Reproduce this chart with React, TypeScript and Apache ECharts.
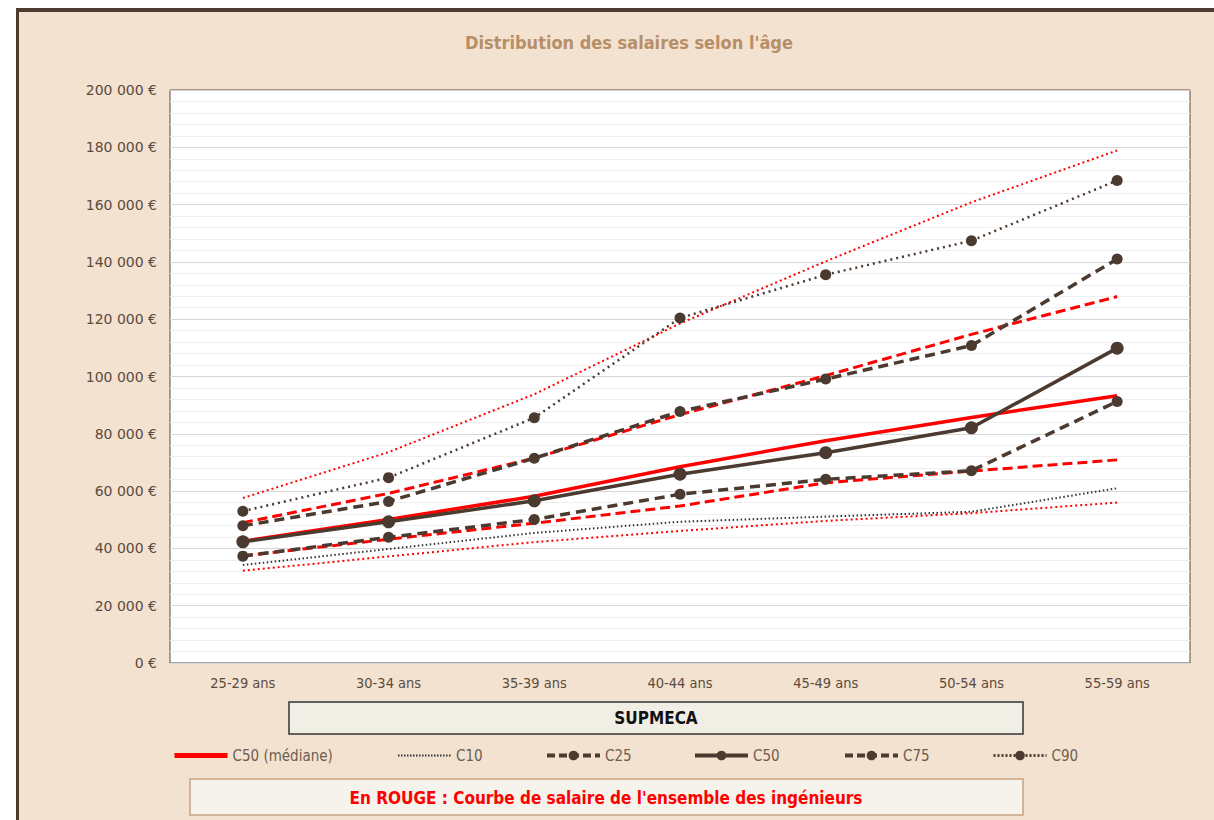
import React, { useEffect, useRef } from 'react';
import * as echarts from 'echarts';

const categories = ['25-29 ans', '30-34 ans', '35-39 ans', '40-44 ans', '45-49 ans', '50-54 ans', '55-59 ans'];

// SUPMECA percentiles
const supC10 = [34200, 39800, 45400, 49300, 51100, 52800, 61000];
const supC25 = [37300, 43900, 50100, 58900, 64100, 67100, 91300];
const supC50 = [42300, 49300, 56600, 65900, 73400, 82100, 109900];
const supC75 = [47900, 56400, 71500, 87800, 99100, 110800, 141000];
const supC90 = [53000, 64700, 85600, 120400, 135500, 147400, 168400];

// Ensemble des ingénieurs (en rouge)
const allC10 = [32200, 37200, 42200, 46100, 49600, 52300, 56000];
const allC25 = [37400, 43200, 48800, 54800, 62900, 67000, 70900];
const allC50 = [42500, 50100, 58200, 68500, 77600, 85700, 93300];
const allC75 = [49000, 59200, 71500, 86700, 100300, 114700, 127900];
const allC90 = [57600, 73600, 93800, 118500, 140200, 160800, 178900];

const yMin = 0;
const yMax = 200000;
const yInterval = 20000;

const titleText = "Distribution des salaires selon l'âge";
const boxLabel = 'SUPMECA';
const noteText = "En ROUGE : Courbe de salaire de l'ensemble des ingénieurs";

const legendNames = ['C50 (médiane)', 'C10', 'C25', 'C50', 'C75', 'C90'];
const legendLefts = [172, 397, 545, 693, 843, 992];

const RED = '#FF0000';
const BROWN = '#4B3A2F';
const COND = '"Liberation Sans Narrow", "DejaVu Sans Condensed", "Roboto Condensed", "DejaVu Sans", sans-serif';
const WIDE = '"DejaVu Sans", Verdana, sans-serif';

const fmt = (v: number) => String(v).replace(/\B(?=(\d{3})+(?!\d))/g, ' ') + ' €';

export default function App() {
  const ref = useRef<HTMLDivElement>(null);
  useEffect(() => {
    document.body.style.margin = '0';
    const chart = echarts.init(ref.current!, null, { renderer: 'svg' });

    const redLine = (name: string, data: number[], width: number, type: any) => ({
      name,
      type: 'line',
      data,
      symbol: 'none',
      showSymbol: false,
      z: 2,
      lineStyle: { color: RED, width, type, cap: 'butt' },
      itemStyle: { color: RED },
    });
    const brownLine = (name: string, data: number[], width: number, type: any, symbolSize: number, color = BROWN) => ({
      name,
      type: 'line',
      data,
      symbol: symbolSize > 0 ? 'circle' : 'none',
      showSymbol: symbolSize > 0,
      symbolSize,
      z: 3,
      lineStyle: { color, width, type, cap: 'butt' },
      itemStyle: { color },
    });

    const legendLine: any[] = [
      { color: RED, width: 5, type: 'solid' },
      { color: '#333333', width: 2, type: [1.5, 1.5] },
      { color: BROWN, width: 4, type: [8, 4] },
      { color: BROWN, width: 4, type: 'solid' },
      { color: BROWN, width: 4, type: [8, 4] },
      { color: BROWN, width: 3, type: [2, 2] },
    ];
    const legendSymbolHidden = [true, true, false, false, false, false];

    const option: any = {
      animation: false,
      backgroundColor: '#F3E2D0',
      title: {
        text: titleText,
        left: 624,
        textAlign: 'center',
        top: 28,
        textStyle: { color: '#B68F69', fontSize: 18, fontWeight: 'bold', fontFamily: COND },
      },
      grid: {
        left: 170,
        right: 24,
        top: 90,
        bottom: 157,
        show: true,
        backgroundColor: '#FFFFFF',
        borderColor: '#5A4A3E',
        borderWidth: 1,
        containLabel: false,
      },
      xAxis: {
        type: 'category',
        data: categories,
        boundaryGap: true,
        axisLine: { show: false },
        axisTick: { show: false },
        axisLabel: { color: '#5B4B3E', fontSize: 14.5, fontFamily: COND, margin: 12 },
        splitLine: { show: false },
      },
      yAxis: {
        type: 'value',
        min: yMin,
        max: yMax,
        interval: yInterval,
        axisLine: { show: false },
        axisTick: { show: false },
        axisLabel: { color: '#5B4B3E', fontSize: 14, fontFamily: WIDE, margin: 13, formatter: fmt },
        splitLine: { show: true, lineStyle: { color: '#D6D6D6', width: 1 } },
        minorTick: { show: false, splitNumber: 5 },
        minorSplitLine: { show: true, lineStyle: { color: '#EFEFEF', width: 1 } },
      },
      legend: legendNames.map((n, i) => ({
        data: [n],
        left: legendLefts[i],
        top: 748,
        padding: 0,
        itemWidth: 53,
        itemHeight: 12,
        itemGap: 4,
        lineStyle: legendLine[i],
        itemStyle: legendSymbolHidden[i] ? { opacity: 0 } : { color: BROWN },
        textStyle: { color: '#6E5E50', fontSize: 15, fontFamily: COND },
        selectedMode: false,
      })),
      graphic: [
        { type: 'rect', silent: true, z: 100, shape: { x: 0, y: 0, width: 1214, height: 8 }, style: { fill: '#FFFFFF' } },
        { type: 'rect', silent: true, z: 100, shape: { x: 0, y: 0, width: 16, height: 820 }, style: { fill: '#FFFFFF' } },
        { type: 'rect', silent: true, z: 101, shape: { x: 16, y: 8, width: 1198, height: 4 }, style: { fill: '#4E3B30' } },
        { type: 'rect', silent: true, z: 101, shape: { x: 16, y: 8, width: 3, height: 812 }, style: { fill: '#4E3B30' } },
        { type: 'rect', z: 50, shape: { x: 289, y: 702, width: 734, height: 32 }, style: { fill: '#F1EEE6', stroke: '#333333', lineWidth: 1.5 } },
        {
          type: 'text', z: 51, x: 656, y: 718,
          style: { text: boxLabel, align: 'center', verticalAlign: 'middle', fill: '#111111', font: `bold 17px ${COND}` },
        },
        { type: 'rect', z: 50, shape: { x: 190, y: 779, width: 833, height: 36 }, style: { fill: '#F6F2EC', stroke: '#C9A482', lineWidth: 1.5 } },
        {
          type: 'text', z: 51, x: 606, y: 798,
          style: { text: noteText, align: 'center', verticalAlign: 'middle', fill: '#FF0000', font: `bold 17px ${COND}` },
        },
      ],
      series: [
        redLine('Ensemble C10', allC10, 2, [2, 3]),
        redLine('Ensemble C90', allC90, 2, [2, 3]),
        redLine('Ensemble C25', allC25, 3, [10, 5]),
        redLine('Ensemble C75', allC75, 3, [10, 5]),
        redLine('C50 (médiane)', allC50, 3.5, 'solid'),
        brownLine('C10', supC10, 2, [1.5, 2.5], 0, '#333333'),
        brownLine('C25', supC25, 3.5, [10, 6], 11),
        brownLine('C50', supC50, 3.5, 'solid', 13),
        brownLine('C75', supC75, 3.5, [10, 6], 11),
        brownLine('C90', supC90, 2.5, [2, 4], 11),
      ],
    };
    chart.setOption(option);
    return () => chart.dispose();
  }, []);
  return <div ref={ref} style={{ width: 1214, height: 820 }} />;
}
